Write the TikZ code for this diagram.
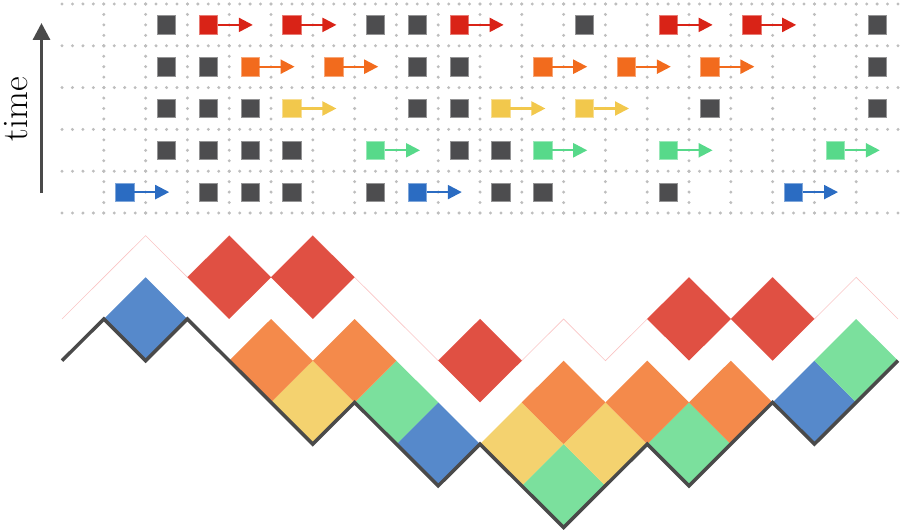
\documentclass[tikz,border=0pt]{standalone}
\usetikzlibrary{arrows.meta}
\definecolor{dk}{HTML}{4D4D4F}
\definecolor{tred}{HTML}{D92317}
\definecolor{tora}{HTML}{F26B1D}
\definecolor{tyel}{HTML}{F2C84C}
\definecolor{tgrn}{HTML}{57D98A}
\definecolor{tblu}{HTML}{2B6CC2}
\definecolor{bblu}{HTML}{5689CB}
\definecolor{bgrn}{HTML}{7BE09D}
\definecolor{byel}{HTML}{F4D26F}
\definecolor{bora}{HTML}{F48A4B}
\definecolor{bred}{HTML}{E05043}
\definecolor{dotc}{HTML}{BEBEBE}
\definecolor{pathc}{HTML}{4A4A4A}
\definecolor{pinkc}{HTML}{F9C4C4}
\tikzset{
  dotline/.style={draw=dotc, line width=3.3pt, line cap=round, dash pattern=on 0pt off 10.45pt},
  sq/.style={minimum size=18.5pt, inner sep=0pt, outer sep=0pt, fill=#1, draw=#1!60!white, line width=0.7pt},
  arr/.style={draw=#1, line width=2.2pt, -{Triangle[length=14pt,width=14pt]}},
  lozfill/.style={fill=#1},
}
\newcommand\mydiamond[3]{\fill[lozfill=#1] ({62+41.8*#2},{360.7-41.7*#3}) -- ++(41.8,-41.7) -- ++(-41.8,-41.7) -- ++(-41.8,41.7) -- cycle;}
\begin{document}
\begin{tikzpicture}[x=1pt,y=-1pt]
\useasboundingbox (0,0) rectangle (904,532);
% dotted grid
\foreach \j in {0,...,5} \draw[dotline] (62,{4+41.8*\j}) -- (898.1,{4+41.8*\j});
\foreach \j in {0,...,4} \foreach \b in {1,...,19} \draw[dotline] ({62+41.8*\b},{4+41.8*\j}) -- ++(0,41.85);
% time axis
\coordinate (tb) at (41.5,193);
\coordinate (tt) at (41.5,23);
\draw[line width=3.2pt, pathc, -{Triangle[length=17pt,width=17pt]}] (tb) -- (tt);
\node[rotate=90, font=\fontsize{36}{42}\selectfont, inner sep=0pt] (lbl) at (16,109) {time};
% dark particles
\foreach \r/\list in {0/{2,7,8,12,19}, 1/{2,3,8,9,19}, 2/{2,3,4,8,9,15,19}, 3/{2,3,4,5,9,10}, 4/{3,4,5,7,10,11,14}}{
  \foreach \k in \list {
    \node[sq=dk] (d-\r-\k) at ({62+41.8*(\k+0.5)},{24.9+41.8*\r}) {};
  }
}
% moving particles
\foreach \r/\c/\list in {0/tred/{3,5,9,14,16}, 1/tora/{4,6,11,13,15}, 2/tyel/{5,10,12}, 3/tgrn/{7,11,14,18}, 4/tblu/{1,8,17}}{
  \foreach \k in \list {
    \node[sq=\c] (s-\r-\k) at ({62+41.8*(\k+0.5)},{24.9+41.8*\r}) {};
    \coordinate (t-\r-\k) at ({62+41.8*(\k+0.5)+44.5},{24.9+41.8*\r});
    \draw[arr=\c] (s-\r-\k.east) -- (t-\r-\k);
  }
}
% faint final profile (shifted)
\draw[pinkc, line width=0.6pt] (62,{360.7-41.7*1})
  \foreach \b/\h in {1/2,2/3,3/2,4/3,5/2,6/3,7/2,8/1,9/0,10/1,11/0,12/1,13/0,14/1,15/2,16/1,17/2,18/1,19/2,20/1} { -- ({62+41.8*\b},{360.7-41.7*\h}) };
% lozenges
\mydiamond{bblu}{2}{0}
\mydiamond{bblu}{9}{-3}
\mydiamond{bblu}{18}{-2}
\mydiamond{bgrn}{8}{-2}
\mydiamond{bgrn}{12}{-4}
\mydiamond{bgrn}{15}{-3}
\mydiamond{bgrn}{19}{-1}
\mydiamond{byel}{6}{-2}
\mydiamond{byel}{11}{-3}
\mydiamond{byel}{13}{-3}
\mydiamond{bora}{5}{-1}
\mydiamond{bora}{7}{-1}
\mydiamond{bora}{12}{-2}
\mydiamond{bora}{14}{-2}
\mydiamond{bora}{16}{-2}
\mydiamond{bred}{4}{1}
\mydiamond{bred}{6}{1}
\mydiamond{bred}{10}{-1}
\mydiamond{bred}{15}{0}
\mydiamond{bred}{17}{0}
% initial profile
\draw[pathc, line width=3.5pt] (62,360.7)
  \foreach \b/\h in {1/1,2/0,3/1,4/0,5/-1,6/-2,7/-1,8/-2,9/-3,10/-2,11/-3,12/-4,13/-3,14/-2,15/-3,16/-2,17/-1,18/-2,19/-1,20/0} { -- ({62+41.8*\b},{360.7-41.7*\h}) };
\end{tikzpicture}
\end{document}
